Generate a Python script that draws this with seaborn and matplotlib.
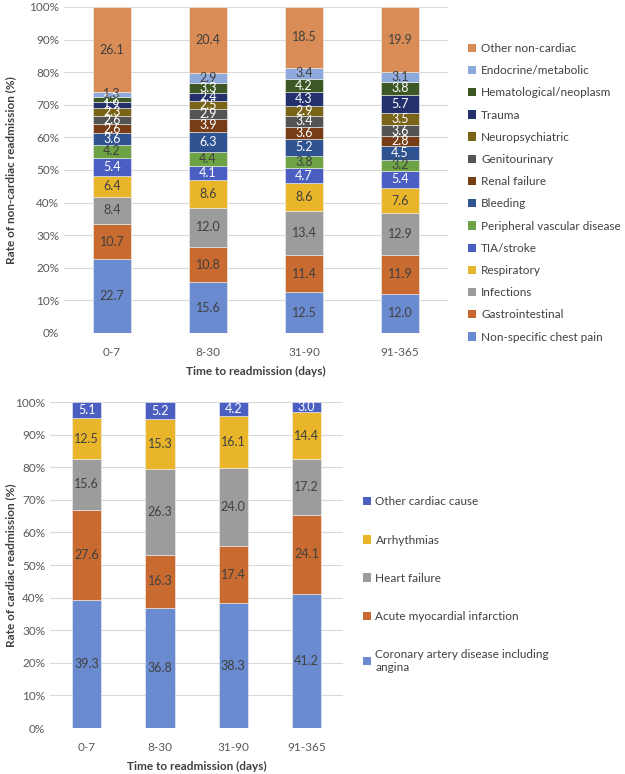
import numpy as np
import pandas as pd
import seaborn as sns
import matplotlib.pyplot as plt
from matplotlib.patches import Patch
from matplotlib.ticker import PercentFormatter

periods = ['0-7', '8-30', '31-90', '91-365']

# non-cardiac causes, bottom of the stack first
nc_causes = ['Non-specific chest pain', 'Gastrointestinal', 'Infections', 'Respiratory',
             'TIA/stroke', 'Peripheral vascular disease', 'Bleeding', 'Renal failure',
             'Genitourinary', 'Neuropsychiatric', 'Trauma', 'Hematological/neoplasm',
             'Endocrine/metabolic', 'Other non-cardiac']
nc_values = [
    [22.7, 15.6, 12.5, 12.0],
    [10.7, 10.8, 11.4, 11.9],
    [8.4, 12.0, 13.4, 12.9],
    [6.4, 8.6, 8.6, 7.6],
    [5.4, 4.1, 4.7, 5.4],
    [4.2, 4.4, 3.8, 3.2],
    [3.6, 6.3, 5.2, 4.5],
    [2.6, 3.9, 3.6, 2.8],
    [2.6, 2.9, 3.4, 3.6],
    [2.3, 2.5, 2.9, 3.5],
    [1.9, 2.4, 4.3, 5.7],
    [1.7, 3.3, 4.2, 3.8],
    [1.3, 2.9, 3.4, 3.1],
    [26.1, 20.4, 18.5, 19.9],
]
nc_colors = ['#6A8BCF', '#C96B30', '#9C9C9C', '#E9B62B', '#4B5EC2', '#6EA345',
             '#2F5291', '#773D17', '#545454', '#7A6418', '#24306B', '#3E5825',
             '#8EAADC', '#D98C56']
nc_white = [False, False, False, False, True, False, True, True,
            True, True, True, True, False, False]

# cardiac causes, bottom first
c_causes = ['Coronary artery disease including\nangina', 'Acute myocardial infarction',
            'Heart failure', 'Arrhythmias', 'Other cardiac cause']
c_values = [
    [39.3, 36.8, 38.3, 41.2],
    [27.6, 16.3, 17.4, 24.1],
    [15.6, 26.3, 24.0, 17.2],
    [12.5, 15.3, 16.1, 14.4],
    [5.1, 5.2, 4.2, 3.0],
]
c_colors = ['#6A8BCF', '#C96B30', '#9C9C9C', '#E9B62B', '#4B5EC2']
c_white = [False, False, False, False, True]

sns.set_style('white')
plt.rcParams['font.family'] = ['Lato', 'DejaVu Sans']
plt.rcParams['font.size'] = 9

fig = plt.figure(figsize=(6.25, 7.74), dpi=100)
ax1 = fig.add_axes([0.1024, 0.5698, 0.6144, 0.4212])
ax2 = fig.add_axes([0.08, 0.0594, 0.469, 0.4212])


def stacked(ax, causes, values, colors, white, ylabel, ylab_x, leg_x, leg_y, leg_space):
    df = pd.DataFrame([(p, c, v) for c, vals in zip(causes, values)
                       for p, v in zip(periods, vals)],
                      columns=['period', 'cause', 'value'])
    # first hue level ends up on top of the stack
    order = causes[::-1]
    pal = dict(zip(causes, colors))
    sns.histplot(data=df, x='period', hue='cause', weights='value', hue_order=order,
                 multiple='stack', discrete=True, shrink=0.4, palette=pal,
                 alpha=1, linewidth=0.4, edgecolor='#f0f0f0', legend=False, ax=ax)
    # value labels
    cum = np.cumsum(np.array(values), axis=0)
    for i, c in enumerate(causes):
        for j in range(len(periods)):
            mid = cum[i, j] - values[i][j] / 2
            ax.text(j, mid, f'{values[i][j]:.1f}', ha='center', va='center', fontsize=9,
                    color='white' if white[i] else '#404040')
    ax.set_ylim(0, 100)
    ax.set_xlim(-0.5, len(periods) - 0.5)
    ax.yaxis.set_major_locator(plt.MultipleLocator(10))
    ax.yaxis.set_major_formatter(PercentFormatter(decimals=0))
    ax.grid(axis='y', color='#D9D9D9', linewidth=0.8)
    ax.set_axisbelow(True)
    sns.despine(ax=ax, left=True, bottom=True)
    ax.tick_params(axis='both', length=0, colors='#595959', labelsize=8.5)
    ax.tick_params(axis='x', pad=10)
    ax.set_xlabel('Time to readmission (days)', fontweight='bold', color='#404040',
                  fontsize=8.5, labelpad=6)
    ax.set_ylabel(ylabel, fontweight='bold', color='#404040', fontsize=8.5)
    ax.yaxis.set_label_coords(ylab_x, 0.5)
    handles = [Patch(facecolor=pal[c], edgecolor='none') for c in order]
    ax.legend(handles, order, loc='center left', bbox_to_anchor=(leg_x, leg_y),
              frameon=False, handlelength=0.7, handleheight=0.7, handletextpad=0.4,
              borderaxespad=0, labelspacing=leg_space, fontsize=8.5, labelcolor='#404040')


stacked(ax1, nc_causes, nc_values, nc_colors, nc_white,
        'Rate of non-cardiac readmission (%)', -0.125, 1.04, 0.43, 0.95)
stacked(ax2, c_causes, c_values, c_colors, c_white,
        'Rate of cardiac readmission (%)', -0.115, 1.05, 0.44, 2.3)

fig.savefig('out.png', dpi=100)
